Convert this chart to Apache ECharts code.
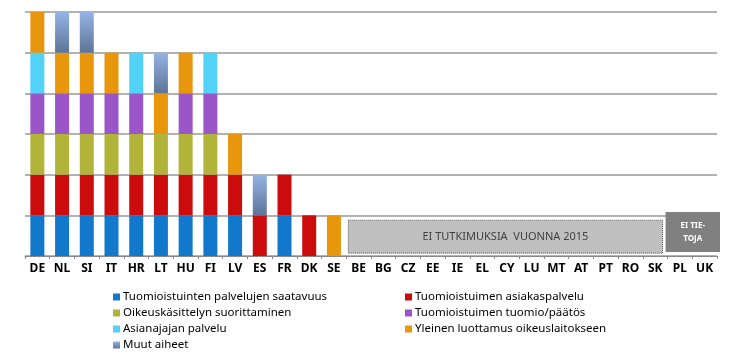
<!DOCTYPE html>
<html><head><meta charset="utf-8">
<script src="https://cdn.jsdelivr.net/npm/echarts@6/dist/echarts.min.js"></script>
<style>html,body{margin:0;padding:0;background:#fff}#c{width:741px;height:354px}</style>
</head><body><div id="c"></div>
<script>
const categories = ['DE','NL','SI','IT','HR','LT','HU','FI','LV','ES','FR','DK','SE','BE','BG','CZ','EE','IE','EL','CY','LU','MT','AT','PT','RO','SK','PL','UK'];
const seriesNames = ['Tuomioistuinten palvelujen saatavuus','Tuomioistuimen asiakaspalvelu','Oikeuskäsittelyn suorittaminen','Tuomioistuimen tuomio/päätös','Asianajajan palvelu','Yleinen luottamus oikeuslaitokseen','Muut aiheet'];
//                 DE NL SI IT HR LT HU FI LV ES FR DK SE
const saatavuus   = [1,1,1,1,1,1,1,1,1,0,1,0,0];
const asiakas     = [1,1,1,1,1,1,1,1,1,1,1,1,0];
const kasittely   = [1,1,1,1,1,1,1,1,0,0,0,0,0];
const tuomio      = [1,1,1,1,1,0,1,1,0,0,0,0,0];
const asianajaja  = [1,0,0,0,1,0,0,1,0,0,0,0,0];
const luottamus   = [1,1,1,1,0,1,1,0,1,0,0,0,1];
const muut        = [0,1,1,0,0,1,0,0,0,1,0,0,0];
const noSurveyFrom = 'BE', noSurveyTo = 'SK';
const noDataFrom = 'PL', noDataTo = 'UK';
const noSurveyLabel = 'EI TUTKIMUKSIA  VUONNA 2015';
const noDataLabel = 'EI TIE-\nTOJA';

const colors = ['#1278cc','#cc0c0c','#b2b43a','#9a55c8','#52d2f6','#e8960c',
  {type:'linear',x:0,y:0,x2:0,y2:1,colorStops:[{offset:0,color:'#94b4e4'},{offset:1,color:'#5e7498'}]}];
const values = [saatavuus,asiakas,kasittely,tuomio,asianajaja,luottamus,muut];
const font = 'Noto Sans';

const chart = echarts.init(document.getElementById('c'));
const series = values.map((v,i)=>({
  name: seriesNames[i], type:'bar', stack:'s', barWidth:14,
  data: v, itemStyle:{color: colors[i]}, animation:false
}));
const legendCommon = {orient:'vertical',top:290,padding:0,itemWidth:7,itemHeight:7,itemGap:2,icon:'rect',height:64,
  textStyle:{fontFamily:font,fontSize:11.5,color:'#000',lineHeight:14,padding:[0,0,0,-2]}};
chart.setOption({
  animation:false,
  grid:{left:25,right:24,top:12,bottom:98},
  xAxis:{type:'category',data:categories,
    axisLine:{lineStyle:{color:'#888',width:1}},
    axisTick:{show:true,length:3,lineStyle:{color:'#888'}},
    axisLabel:{color:'#000',fontFamily:font,fontSize:12,fontWeight:'bold',margin:7,interval:0}},
  yAxis:{type:'value',min:0,max:6,interval:1,axisLabel:{show:false},axisLine:{show:false},axisTick:{show:false},
    splitLine:{lineStyle:{color:'#999',width:1.5}}},
  legend:[
    Object.assign({}, legendCommon, {left:113, data:[seriesNames[0],seriesNames[2],seriesNames[4],seriesNames[6]]}),
    Object.assign({}, legendCommon, {left:405, data:[seriesNames[1],seriesNames[3],seriesNames[5]]})
  ],
  series: series
});
function px(cat,val){return chart.convertToPixel({xAxisIndex:0,yAxisIndex:0},[cat,val]);}
const bw = (px(categories[1],0)[0]-px(categories[0],0)[0]);
const a1 = px(noSurveyFrom,0.88), a2 = px(noSurveyTo,0.07);
const b1 = px(noDataFrom,1.08), b2 = px(noDataTo,0.1);
const r1 = {x:a1[0]-bw/2+2, y:a1[1], width:(a2[0]-a1[0])+bw-7, height:a2[1]-a1[1]};
const r2 = {x:b1[0]-bw/2-2, y:b1[1], width:(b2[0]-b1[0])+bw+5, height:b2[1]-b1[1]};
chart.setOption({graphic:[
  {type:'rect',shape:r1,style:{fill:'#c0c0c0',stroke:'#555',lineWidth:1,lineDash:[1,1]},z:10},
  {type:'text',x:r1.x+r1.width/2,y:r1.y+r1.height/2,style:{text:noSurveyLabel,fill:'#404040',font:'11px "Noto Sans"',align:'center',verticalAlign:'middle'},z:11},
  {type:'rect',shape:r2,style:{fill:'#808080'},z:10},
  {type:'text',x:r2.x+r2.width/2,y:r2.y+r2.height/2,style:{text:noDataLabel,fill:'#fff',font:'bold 8px "Noto Sans"',align:'center',verticalAlign:'middle',lineHeight:13},z:11}
]});
</script></body></html>
